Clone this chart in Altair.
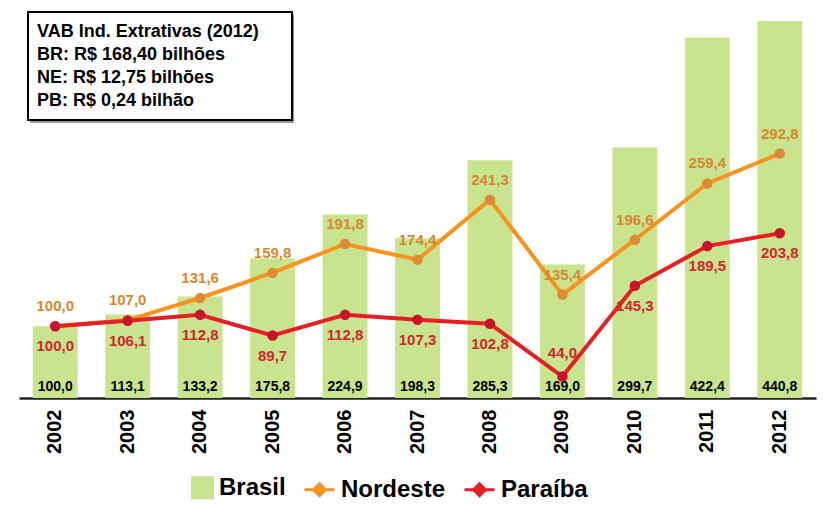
import altair as alt
import pandas as pd

years = ["2002", "2003", "2004", "2005", "2006", "2007", "2008", "2009", "2010", "2011", "2012"]
brasil = [100.0, 113.1, 133.2, 175.8, 224.9, 198.3, 285.3, 169.0, 299.7, 422.4, 440.8]
nordeste = [100.0, 107.0, 131.6, 159.8, 191.8, 174.4, 241.3, 135.4, 196.6, 259.4, 292.8]
paraiba = [100.0, 106.1, 112.8, 89.7, 112.8, 107.3, 102.8, 44.0, 145.3, 189.5, 203.8]
series = ["Brasil", "Nordeste", "Paraíba"]
info_lines = [
    "VAB Ind. Extrativas (2012)",
    "BR: R$ 168,40 bilhões",
    "NE: R$ 12,75 bilhões",
    "PB: R$ 0,24 bilhão",
]


def fmt(v):
    return f"{v:.1f}".replace(".", ",")


rows = []
for s, vals in zip(series, [brasil, nordeste, paraiba]):
    for yr, v in zip(years, vals):
        rows.append({"ano": yr, "serie": s, "valor": v, "rotulo": fmt(v)})
df = pd.DataFrame(rows)
info_df = pd.DataFrame({"texto": ["\n".join(info_lines)]})

FONT = "Liberation Sans"
Y_MIN, Y_MAX = 20, 453

x = alt.X(
    "ano:O",
    scale=alt.Scale(paddingInner=0.38, paddingOuter=0.19),
    axis=alt.Axis(
        title=None, labelAngle=-90, labelFontSize=20, labelFontWeight="bold",
        labelColor="black", labelFont=FONT, labelPadding=11, ticks=False,
        domainColor="#222222", domainWidth=2.5,
    ),
)
y_scale = alt.Scale(domain=[Y_MIN, Y_MAX], nice=False, zero=False)
y = alt.Y("valor:Q", scale=y_scale, axis=None)

color_scale = alt.Scale(domain=series, range=["#c9e48f", "#f7931e", "#e41f26"])
fill_scale = alt.Scale(domain=series, range=["#c9e48f", "#de8a34", "#c8142a"])
sq = "M-0.33,-0.67H1V0.67H-0.33Z"
ln = "M-1,0H1M0,-0.4L0.4,0L0,0.4L-0.4,0Z"
shape_scale = alt.Scale(domain=series, range=[sq, ln, ln])

legend = alt.Legend(
    title=None, orient="none", legendX=162, legendY=461, direction="horizontal",
    padding=0, symbolSize=900, labelFontSize=24, labelFont=FONT, labelFontWeight="bold",
    labelColor="black", labelOffset=5, columnPadding=12,
    symbolStrokeWidth=3, symbolOpacity=1,
)

base = alt.Chart(df)

bars = base.transform_filter(alt.datum.serie == "Brasil").mark_bar(clip=True).encode(
    x=x, y=y,
    color=alt.Color("serie:N", scale=color_scale, legend=legend),
)

bar_labels = base.transform_filter(alt.datum.serie == "Brasil").transform_calculate(
    base_y=str(Y_MIN)
).mark_text(
    baseline="bottom", dy=-4, fontSize=14, fontWeight="bold", font=FONT, color="black"
).encode(x=x, y=alt.Y("base_y:Q", scale=y_scale, axis=None), text="rotulo:N")

shadow = alt.Chart(info_df).mark_rect(fill="#9a9a9a").encode(
    x=alt.value(11), x2=alt.value(275), y=alt.value(4), y2=alt.value(113)
)
box = alt.Chart(info_df).mark_rect(fill="white", stroke="black", strokeWidth=2).encode(
    x=alt.value(9), x2=alt.value(273), y=alt.value(2), y2=alt.value(110)
)
info_text = alt.Chart(info_df).mark_text(
    align="left", baseline="top", lineBreak="\n", lineHeight=23, fontSize=18,
    fontWeight="bold", font=FONT, color="black"
).encode(x=alt.value(18), y=alt.value(13), text="texto:N")

lines = base.transform_filter(alt.datum.serie != "Brasil").mark_line(strokeWidth=4).encode(
    x=x, y=y, color=alt.Color("serie:N", scale=color_scale, legend=legend)
)

points = base.transform_filter(alt.datum.serie != "Brasil").mark_circle(size=110, opacity=1).encode(
    x=x, y=y,
    fill=alt.Fill("serie:N", scale=fill_scale, legend=legend),
)

# legend-only layer (no rows pass the filter); supplies the legend symbol shapes
legend_layer = base.transform_filter(alt.datum.valor < 0).mark_point(filled=True, opacity=1).encode(
    x=x, y=y,
    color=alt.Color("serie:N", scale=color_scale, legend=legend),
    fill=alt.Fill("serie:N", scale=fill_scale, legend=legend),
    shape=alt.Shape("serie:N", scale=shape_scale, legend=legend),
)

ne_labels = base.transform_filter(alt.datum.serie == "Nordeste").mark_text(
    dy=-20, fontSize=15, fontWeight="bold", font=FONT, color="#d8872f"
).encode(x=x, y=y, text="rotulo:N")

pb_labels = base.transform_filter(
    (alt.datum.serie == "Paraíba") & (alt.datum.ano != "2009")
).mark_text(dy=20, fontSize=15, fontWeight="bold", font=FONT, color="#d0262e").encode(
    x=x, y=y, text="rotulo:N"
)
pb_labels_up = base.transform_filter(
    (alt.datum.serie == "Paraíba") & (alt.datum.ano == "2009")
).mark_text(dy=-23, fontSize=15, fontWeight="bold", font=FONT, color="#d0262e").encode(
    x=x, y=y, text="rotulo:N"
)

chart = alt.layer(
    bars, bar_labels, shadow, box, info_text, lines, points, ne_labels, pb_labels, pb_labels_up,
    legend_layer,
).properties(
    width=797, height=388,
    padding={"left": 11, "top": 2, "right": 4, "bottom": 108},
    autosize=alt.AutoSizeParams(type="none"),
    background="white",
).configure_view(stroke=None)

chart.save("out.html", embed_options={"renderer": "svg", "actions": False})
